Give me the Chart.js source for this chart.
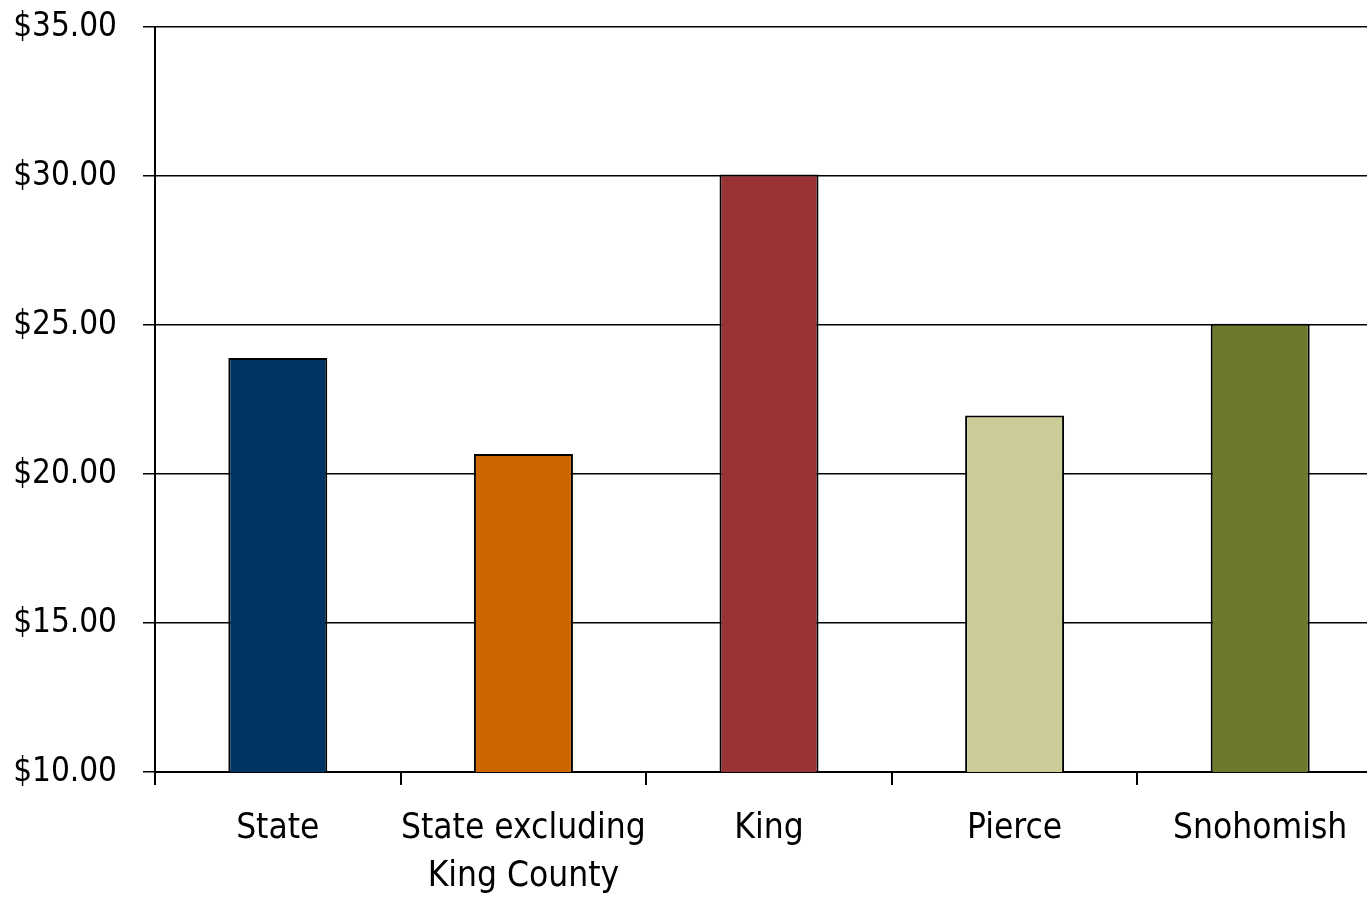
<!DOCTYPE html>
<html>
<head>
<meta charset="utf-8">
<script src="https://cdn.jsdelivr.net/npm/chart.js@4/dist/chart.umd.min.js"></script>
<style>
  html, body { margin: 0; padding: 0; background: #fff; overflow: hidden; }
  canvas { display: block; }
</style>
</head>
<body>
<canvas id="myChart" width="1383" height="897"></canvas>
<script>
const categories = ['State', ['State excluding', 'King County'], 'King', 'Pierce', 'Snohomish'];
const wages = [23.89, 20.67, 30.05, 21.96, 25.04];
const barColors = ['#003462', '#cc6600', '#993336', '#cccc99', '#6e7a2b'];
const yTicks = [10, 15, 20, 25, 30, 35];

const ctx = document.getElementById('myChart').getContext('2d');

const myChart = new Chart(ctx, {
    type: 'bar',
    data: {
        labels: categories,
        datasets: [{
            label: 'Average Wage',
            data: wages,
            backgroundColor: barColors,
            borderColor: '#000',
            borderWidth: 2,
            borderSkipped: false,
            barPercentage: 0.403,
            categoryPercentage: 1
        }]
    },
    options: {
        responsive: false,
        animation: false,
        devicePixelRatio: 1,
        layout: { padding: 0 },
        plugins: {
            legend: { display: false },
            tooltip: { enabled: false }
        },
        scales: {
            x: {
                offset: true,
                afterFit: (scale) => { scale.height = 125; },
                grid: {
                    offset: true,
                    drawOnChartArea: false,
                    drawTicks: true,
                    tickLength: 13,
                    color: '#000',
                    lineWidth: 2
                },
                border: { color: '#000', width: 2 },
                ticks: {
                    color: '#000',
                    padding: 20,
                    maxRotation: 0,
                    autoSkip: false,
                    font: { family: '"Liberation Sans Narrow", "DejaVu Sans Condensed", sans-serif', size: 35, lineHeight: 1.37 }
                }
            },
            y: {
                min: 10,
                max: 35,
                afterFit: (scale) => {
                    scale.width = 155;
                    scale.paddingTop = 27;
                    scale.paddingBottom = 0;
                },
                afterBuildTicks: (scale) => { scale.ticks = yTicks.map(v => ({ value: v })); },
                grid: {
                    color: '#000',
                    lineWidth: 1.5,
                    tickLength: 12
                },
                border: { color: '#000', width: 2 },
                ticks: {
                    color: '#000',
                    padding: 26,
                    font: { family: '"Liberation Sans Narrow", "DejaVu Sans Condensed", sans-serif', size: 33 },
                    callback: (v) => '$' + Number(v).toFixed(2)
                }
            }
        }
    }
});
</script>
</body>
</html>
